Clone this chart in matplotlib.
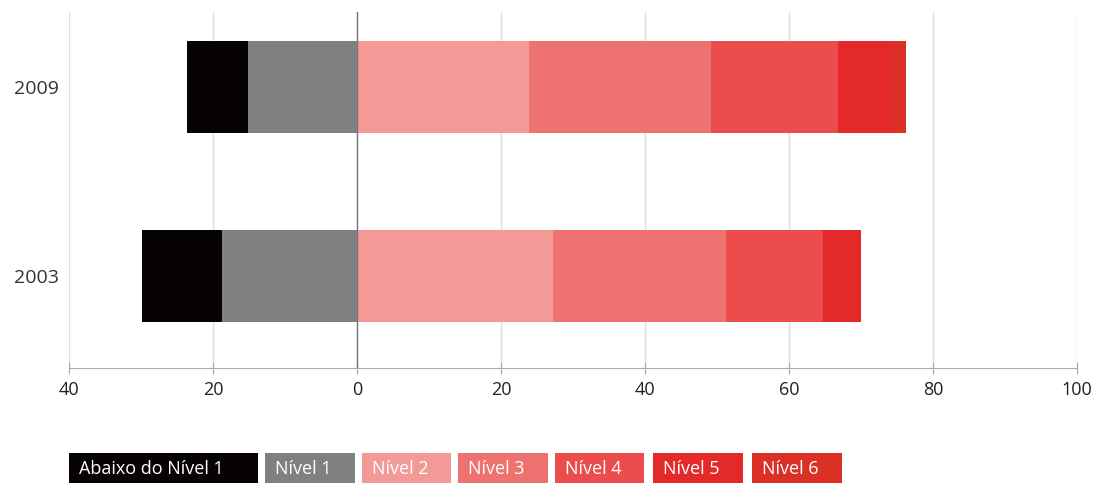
import matplotlib.pyplot as plt

# anos e percentuais por nível (negativos à esquerda do zero)
anos = ["2003", "2009"]
abaixo_nivel1 = [11.2, 8.4]
nivel1 = [18.7, 15.2]
nivel2 = [27.2, 23.9]
nivel3 = [24.0, 25.2]
nivel4 = [13.5, 17.7]
nivel5 = [5.3, 7.5]
nivel6 = [0.0, 1.9]

rotulos = ["Abaixo do Nível 1", "Nível 1", "Nível 2", "Nível 3",
           "Nível 4", "Nível 5", "Nível 6"]
cores = ["#070303", "#808080", "#f39a96", "#ee7370",
         "#ec4c4b", "#e3292a", "#da3025"]

plt.rcParams["font.family"] = ["Open Sans", "DejaVu Sans"]

fig = plt.figure(figsize=(10.94, 4.83), dpi=100)
ax = fig.add_axes([0.0631, 0.238, 0.9214, 0.737])

y = list(range(len(anos)))
altura = 0.49

# lado negativo: Nível 1 encostado no zero, "abaixo" mais à esquerda
ax.barh(y, [-v for v in nivel1], height=altura, color=cores[1], zorder=3)
ax.barh(y, [-v for v in abaixo_nivel1], left=[-v for v in nivel1],
        height=altura, color=cores[0], zorder=3)

# lado positivo empilhado
base = [0.0] * len(anos)
for serie, cor in zip([nivel2, nivel3, nivel4, nivel5, nivel6], cores[2:]):
    ax.barh(y, serie, left=base, height=altura, color=cor, zorder=3)
    base = [b + s for b, s in zip(base, serie)]

ax.set_xlim(-40, 100)
ax.set_ylim(-0.487, 1.397)
ax.set_xticks(range(-40, 101, 20))
ax.set_xticklabels([str(abs(t)) for t in range(-40, 101, 20)])
ax.set_yticks(y)
ax.set_yticklabels(anos)

ax.grid(axis="x", color="#dddddd", linewidth=1, zorder=0)
ax.axvline(0, color="#777777", linewidth=1, zorder=4)

for lado in ["top", "right", "left"]:
    ax.spines[lado].set_visible(False)
ax.spines["bottom"].set_color("#aaaaaa")
ax.tick_params(axis="x", direction="inout", length=8, color="#aaaaaa",
               labelsize=13, pad=5, labelcolor="#222222")
ax.tick_params(axis="y", length=0, labelsize=14, pad=7, labelcolor="#333333")

# legenda em caixas coloridas com texto branco
posicoes = [69, 265, 362, 458, 555, 653, 752]
larguras = [189, 90, 89, 90, 89, 90, 90]
for x0, w, rot, cor in zip(posicoes, larguras, rotulos, cores):
    fig.patches.append(plt.Rectangle((x0 / 1094, 0), w / 1094, 30 / 483,
                                     transform=fig.transFigure,
                                     facecolor=cor, edgecolor="none"))
    fig.text((x0 + 10) / 1094, 14 / 483, rot, color="white",
             fontsize=13, va="center", ha="left")

fig.savefig("out.png", dpi=100)
